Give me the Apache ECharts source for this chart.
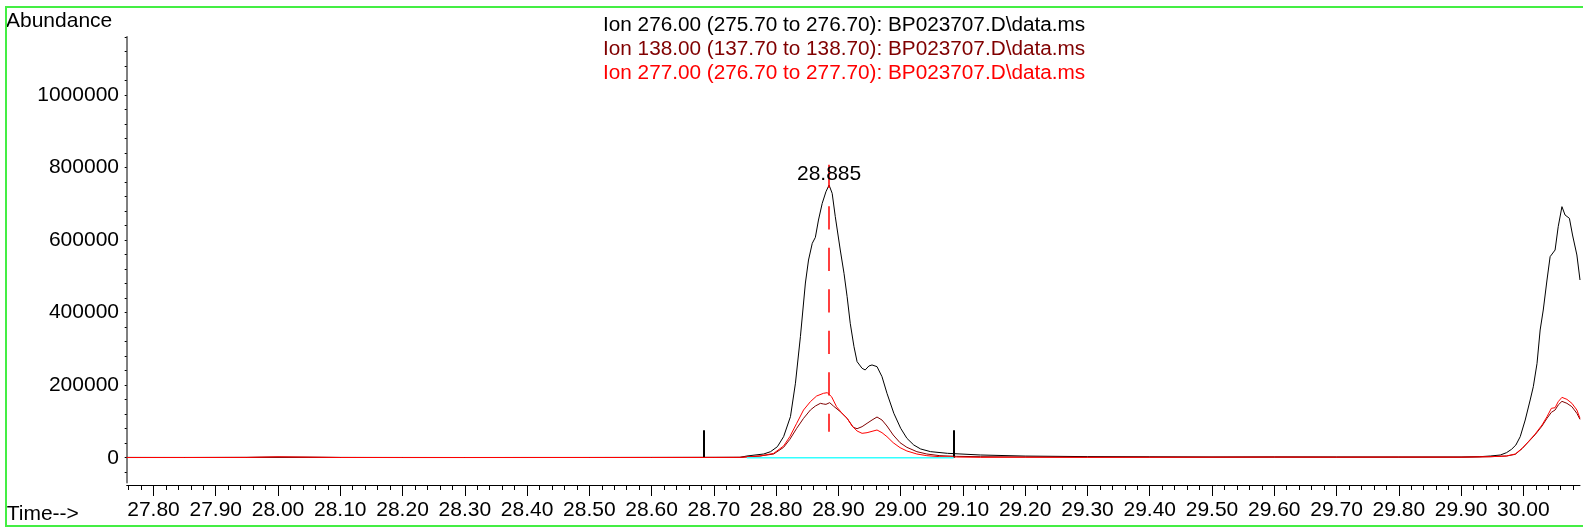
<!DOCTYPE html>
<html>
<head>
<meta charset="utf-8">
<script src="https://cdn.jsdelivr.net/npm/echarts@6/dist/echarts.min.js"></script>
<style>
html,body{margin:0;padding:0;background:#fff;overflow:hidden;}
#wrap{position:relative;width:1583px;height:529px;}
#chart{position:absolute;left:0;top:0;width:1583px;height:529px;}
#frame{position:absolute;left:5px;top:6px;width:1600px;height:517px;border:2px solid #44ee44;pointer-events:none;}
</style>
</head>
<body>
<div id="wrap"><div id="chart"></div><div id="frame"></div></div>
<script>
// ---- data ----
const seriesNames = [
  'Ion 276.00 (275.70 to 276.70): BP023707.D\\data.ms',
  'Ion 138.00 (137.70 to 138.70): BP023707.D\\data.ms',
  'Ion 277.00 (276.70 to 277.70): BP023707.D\\data.ms'
];
const seriesColors = ['#000000', '#800000', '#ff0000'];

// Ion 276 (black)
const ion276Time = [27.757, 27.85, 27.95, 28.0, 28.1, 28.2, 28.3, 28.4, 28.5, 28.6, 28.7, 28.742, 28.753, 28.780, 28.791, 28.802, 28.812, 28.823, 28.831, 28.839, 28.847, 28.852, 28.858, 28.863, 28.868, 28.874, 28.880, 28.885, 28.890, 28.895, 28.903, 28.909, 28.914, 28.919, 28.925, 28.930, 28.938, 28.943, 28.949, 28.954, 28.962, 28.970, 28.978, 28.989, 29.000, 29.010, 29.021, 29.032, 29.048, 29.075, 29.128, 29.2, 29.3, 29.4, 29.5, 29.6, 29.7, 29.8, 29.9, 29.93, 29.947, 29.963, 29.973, 29.981, 29.988, 29.995, 30.003, 30.011, 30.016, 30.022, 30.027, 30.032, 30.038, 30.043, 30.051, 30.056, 30.062, 30.067, 30.074, 30.079, 30.086, 30.091];
const ion276Abund = [800, 700, 900, 1200, 800, 700, 600, 700, 700, 800, 900, 1000, 4700, 10200, 16600, 30400, 58000, 113300, 205400, 334300, 481600, 545000, 591000, 607500, 655300, 701200, 733300, 751700, 728800, 664500, 572600, 508300, 444000, 370500, 306200, 264800, 246500, 241900, 252900, 255700, 251100, 223500, 177600, 122500, 81100, 53500, 35100, 24100, 16700, 12100, 7500, 4500, 3000, 2500, 2000, 2200, 2000, 1800, 1800, 2800, 4700, 7400, 13900, 23100, 35000, 58000, 103900, 159100, 195800, 260200, 352100, 407200, 489900, 554300, 572600, 637000, 692100, 669100, 660000, 614000, 558900, 489900];

// Ion 138 (dark red)
const ion138Time = [27.757, 27.85, 27.95, 28.0, 28.05, 28.1, 28.2, 28.3, 28.4, 28.5, 28.6, 28.7, 28.742, 28.774, 28.796, 28.812, 28.822, 28.833, 28.844, 28.855, 28.863, 28.871, 28.876, 28.880, 28.886, 28.892, 28.903, 28.914, 28.924, 28.930, 28.938, 28.946, 28.954, 28.962, 28.970, 28.978, 28.988, 28.999, 29.010, 29.026, 29.042, 29.063, 29.090, 29.128, 29.2, 29.3, 29.4, 29.5, 29.6, 29.7, 29.8, 29.9, 29.947, 29.973, 29.987, 29.998, 30.008, 30.019, 30.030, 30.038, 30.045, 30.051, 30.056, 30.062, 30.070, 30.078, 30.086, 30.091];
const ion138Abund = [500, 600, 700, 1500, 1200, 600, 500, 500, 600, 600, 700, 800, 1000, 4700, 10200, 28600, 50600, 81000, 108500, 131500, 142500, 149900, 148100, 147100, 151700, 142500, 126900, 108500, 83700, 80000, 85600, 94800, 103900, 112200, 103900, 87400, 62600, 41400, 28600, 16600, 10200, 5600, 3800, 2800, 2000, 1500, 1500, 1200, 1500, 1300, 1500, 1500, 2800, 4700, 9300, 24900, 43300, 63500, 87400, 108500, 125100, 131500, 145300, 155400, 149900, 140700, 122300, 105800];

// Ion 277 (red)
const ion277Time = [27.757, 27.85, 27.95, 28.0, 28.05, 28.1, 28.2, 28.3, 28.4, 28.5, 28.6, 28.7, 28.742, 28.774, 28.796, 28.812, 28.822, 28.833, 28.844, 28.855, 28.865, 28.876, 28.882, 28.889, 28.897, 28.905, 28.914, 28.922, 28.930, 28.938, 28.946, 28.954, 28.962, 28.970, 28.978, 28.988, 28.999, 29.010, 29.026, 29.042, 29.063, 29.090, 29.128, 29.2, 29.3, 29.4, 29.5, 29.6, 29.7, 29.8, 29.9, 29.947, 29.973, 29.987, 29.998, 30.008, 30.019, 30.030, 30.038, 30.045, 30.051, 30.056, 30.062, 30.070, 30.078, 30.086, 30.091];
const ion277Abund = [500, 500, 800, 2500, 1500, 600, 500, 500, 500, 600, 600, 800, 1000, 4700, 12000, 32300, 58000, 94800, 131500, 154500, 170100, 177500, 179300, 168300, 140700, 124200, 108500, 87400, 73600, 67200, 69000, 72700, 76400, 69000, 58000, 41400, 27700, 18500, 10200, 5600, 2800, 1900, 1000, 1200, 1000, 1200, 1500, 1800, 1500, 1800, 1500, 2800, 4700, 10200, 25800, 44200, 65300, 90200, 113100, 136100, 137900, 154500, 166400, 160900, 149900, 131500, 108500];

// integration baseline and event markers
const baselineTime = [28.753, 29.085];
const baselineAbund = [0, 0];
const eventMarkTimes = [28.683, 29.085];
const eventMarkHeight = 76000;
const peakRT = 28.885;
const peakLabel = '28.885';
const peakLineTop = 808000;
const peakLineBottom = 71700;
const peakLabelY = 782000;

// axis ticks
const xMajorTicks = [27.8, 27.9, 28.0, 28.1, 28.2, 28.3, 28.4, 28.5, 28.6, 28.7, 28.8, 28.9, 29.0, 29.1, 29.2, 29.3, 29.4, 29.5, 29.6, 29.7, 29.8, 29.9, 30.0];
const yLabelTicks = [0, 200000, 400000, 600000, 800000, 1000000];
const xMin = 27.757, xMax = 30.091;
const yMin = -68900, yMax = 1160700;

const xMinorTicks = [];
for (let i = 1388; i <= 1504; i++) xMinorTicks.push(i / 50);
const yMinorTicks = [];
for (let i = -1; i <= 29; i++) yMinorTicks.push(i * 40000);

function zip(t, v) { return t.map((x, i) => [x, v[i]]); }

const FONT = 'Liberation Sans';
const FS = 21;
const LEGEND_FS = 20.75;

const chart = echarts.init(document.getElementById('chart'), null, {renderer: 'canvas'});
const series = [
  {
    name: seriesNames[0], type: 'line', data: zip(ion276Time, ion276Abund),
    showSymbol: false, lineStyle: {color: seriesColors[0], width: 1}, itemStyle: {color: seriesColors[0]},
    z: 3,
    markLine: {
      silent: true, symbol: 'none', animation: false,
      label: {show: false},
      lineStyle: {color: '#000', width: 2, type: 'solid'},
      data: eventMarkTimes.map(t => [{coord: [t, 0]}, {coord: [t, eventMarkHeight]}])
    },
    markPoint: {
      silent: true, animation: false,
      symbol: 'circle', symbolSize: 1, itemStyle: {color: 'rgba(0,0,0,0)'},
      label: {show: true, position: 'inside', formatter: peakLabel, color: '#000', fontSize: FS, fontFamily: FONT},
      data: [{coord: [peakRT, peakLabelY]}]
    }
  },
  {
    name: seriesNames[1], type: 'line', data: zip(ion138Time, ion138Abund),
    showSymbol: false, lineStyle: {color: seriesColors[1], width: 1}, itemStyle: {color: seriesColors[1]}, z: 4
  },
  {
    name: seriesNames[2], type: 'line', data: zip(ion277Time, ion277Abund),
    showSymbol: false, lineStyle: {color: seriesColors[2], width: 1}, itemStyle: {color: seriesColors[2]}, z: 5,
    markLine: {
      silent: true, symbol: 'none', animation: false,
      label: {show: false},
      lineStyle: {color: '#ff0000', width: 1.5, type: [23.3, 18.2]},
      data: [[{coord: [peakRT, peakLineTop]}, {coord: [peakRT, peakLineBottom]}]]
    }
  },
  {
    name: 'baseline', type: 'line', data: zip(baselineTime, baselineAbund),
    showSymbol: false, lineStyle: {color: '#33ffff', width: 1.5}, z: 6
  }
];

chart.setOption({
  animation: false,
  backgroundColor: '#ffffff',
  textStyle: {fontFamily: FONT},
  title: [
    {text: 'Abundance', left: 6, top: 11, padding: 0, textStyle: {fontSize: FS, fontWeight: 'normal', color: '#000', fontFamily: FONT}},
    {text: 'Time-->', left: 6.7, top: 503.5, padding: 0, textStyle: {fontSize: FS, fontWeight: 'normal', color: '#000', fontFamily: FONT}}
  ],
  legend: {
    orient: 'vertical', left: 598, top: 13.5, padding: 0, itemGap: 0,
    icon: 'none', itemWidth: 0, itemHeight: 10, selectedMode: false,
    textStyle: {fontSize: LEGEND_FS, fontFamily: FONT, lineHeight: 23.8},
    data: seriesNames.map((n, i) => ({name: n, textStyle: {color: seriesColors[i]}}))
  },
  grid: {left: 126.7, right: 3, top: 36.7, bottom: 46.3, containLabel: false},
  xAxis: [
    {
      type: 'value', min: xMin, max: xMax, position: 'bottom', offset: 2.3,
      axisLine: {show: true, onZero: false, lineStyle: {color: '#000', width: 1}},
      axisTick: {show: true, length: 5, customValues: xMinorTicks, lineStyle: {color: '#000', width: 1}},
      axisLabel: {show: false},
      splitLine: {show: false}
    },
    {
      type: 'value', min: xMin, max: xMax, position: 'bottom', offset: 2.3,
      axisLine: {show: false, onZero: false},
      axisTick: {show: true, length: 11, customValues: xMajorTicks, lineStyle: {color: '#000', width: 1}},
      axisLabel: {show: true, customValues: xMajorTicks, margin: 14.5, color: '#000', fontSize: FS, fontFamily: FONT,
        formatter: v => v.toFixed(2)},
      splitLine: {show: false}
    }
  ],
  yAxis: {
    type: 'value', min: yMin, max: yMax, position: 'left',
    axisLine: {show: true, onZero: false, lineStyle: {color: '#555', width: 1.5}},
    axisTick: {show: true, length: 2, customValues: yMinorTicks, lineStyle: {color: '#000', width: 1}},
    axisLabel: {show: true, customValues: yLabelTicks, margin: 7.7, color: '#000', fontSize: FS, fontFamily: FONT,
      formatter: v => v.toFixed(0)},
    splitLine: {show: false}
  },
  series: series
});
</script>
</body>
</html>
